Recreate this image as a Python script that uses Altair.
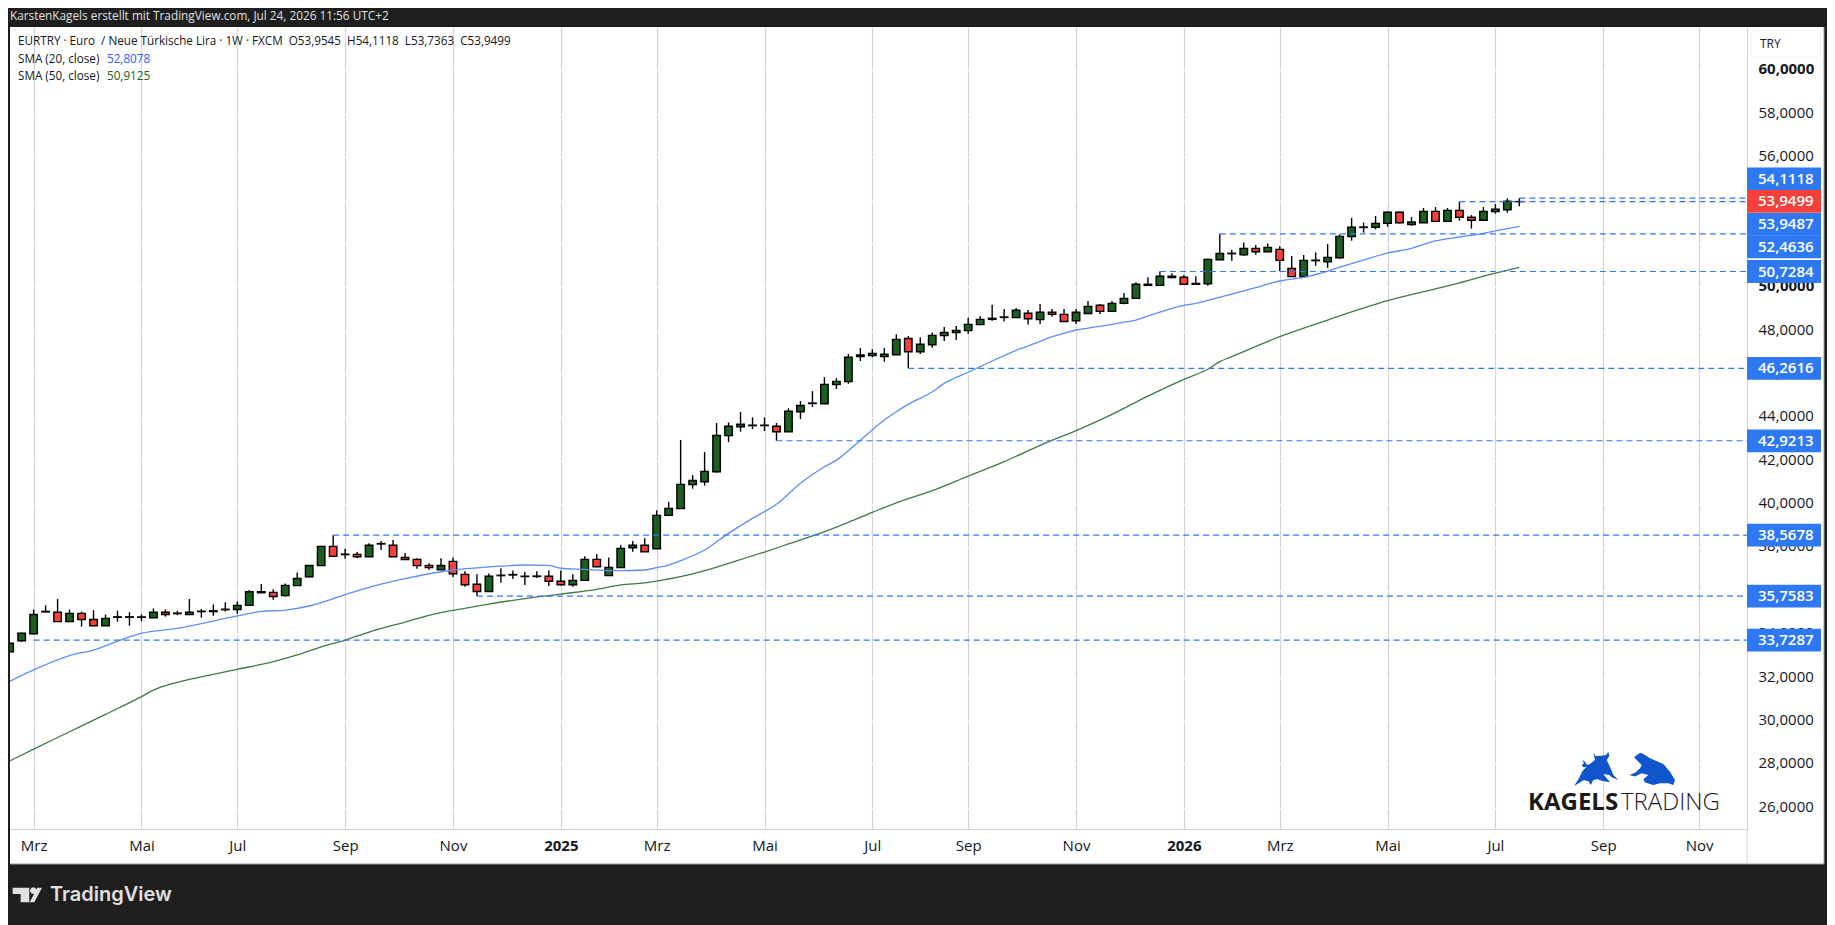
import math
import altair as alt
import pandas as pd

# ---- weekly candles (2024-02-19 ... 2026-07-20)
first_week = "2024-02-19"
opens = [33.19,33.70,34.02,35.03,35.01,34.58,34.96,34.68,34.39,34.78,34.80,34.78,34.76,35.01,34.95,34.90,35.04,35.04,35.13,35.14,
         35.33,35.91,35.93,35.78,36.24,36.65,37.16,38.05,37.67,37.68,37.57,38.16,38.10,37.54,37.45,37.17,36.97,37.36,36.76,36.30,
         35.97,36.70,36.73,36.66,36.66,36.67,36.44,36.28,36.48,37.45,36.70,37.07,37.99,38.10,37.94,39.48,39.79,40.90,41.03,41.49,
         43.16,43.57,43.62,43.62,43.59,43.34,44.26,44.64,44.63,45.51,45.65,46.81,46.85,46.80,46.89,47.64,47.03,47.35,47.77,47.91,
         48.00,48.28,48.52,48.61,48.60,48.80,48.51,48.85,48.75,48.46,48.79,49.17,48.89,49.26,49.49,50.09,50.09,50.51,50.46,50.14,
         50.16,51.27,51.55,51.50,51.79,51.64,51.75,50.87,50.49,51.23,51.18,51.36,52.34,52.76,52.77,52.95,53.46,52.89,52.98,53.50,
         53.04,53.55,53.23,53.09,53.49,53.58,53.9545]
closes = [33.58,34.04,34.91,35.05,34.58,34.96,34.68,34.39,34.73,34.80,34.78,34.80,35.01,34.91,34.97,35.01,35.06,35.08,35.15,35.33,
          35.96,35.96,35.74,36.25,36.57,37.17,38.05,37.59,37.69,37.57,38.10,38.18,37.57,37.44,37.16,37.07,37.17,36.79,36.28,35.97,
          36.67,36.72,36.75,36.68,36.68,36.44,36.28,36.48,37.45,37.11,37.08,37.96,38.10,37.80,39.48,39.80,40.91,41.09,41.51,43.17,
          43.59,43.68,43.64,43.64,43.34,44.28,44.55,44.66,45.52,45.66,46.77,46.88,46.95,46.91,47.60,47.03,47.37,47.78,47.92,48.01,
          48.29,48.52,48.57,48.63,48.94,48.55,48.85,48.75,48.42,48.85,49.12,48.89,49.26,49.49,50.14,50.14,50.51,50.45,50.14,50.18,
          51.29,51.56,51.57,51.79,51.64,51.84,51.24,50.49,51.24,51.25,51.38,52.35,52.77,52.78,52.95,53.46,52.98,53.01,53.50,53.04,
          53.55,53.23,53.09,53.50,53.60,53.97,53.9499]
highs = [33.62,34.08,35.14,35.33,35.62,35.14,35.04,35.11,34.91,35.08,35.01,34.91,35.19,35.14,35.08,35.62,35.16,35.37,35.47,35.51,
         36.04,36.31,36.07,36.34,36.85,37.17,38.08,38.5678,37.94,37.79,38.19,38.30,38.34,37.74,37.50,37.27,37.50,37.54,36.90,36.76,
         36.80,37.04,36.94,36.87,36.90,36.94,36.94,36.76,37.60,37.70,37.54,38.11,38.30,38.43,39.71,40.10,42.96,41.34,42.40,43.74,
         43.77,44.25,44.00,44.00,43.74,44.42,44.75,45.21,45.86,45.81,46.92,47.20,47.14,47.20,47.83,47.75,47.69,47.92,48.17,48.21,
         48.59,48.68,49.19,49.00,49.05,48.95,49.23,49.00,49.00,49.00,49.37,49.23,49.37,49.74,50.23,50.46,50.7284,50.65,50.57,50.51,
         51.33,52.4636,51.72,52.07,51.95,52.02,51.89,51.44,51.49,51.61,51.99,52.44,53.20,52.98,53.29,53.50,53.50,53.24,53.66,53.70,
         53.66,53.9487,53.33,53.70,53.84,54.10,54.1118]
lows = [33.15,33.65,33.98,34.99,34.58,34.58,34.35,34.39,34.39,34.58,34.39,34.59,34.76,34.81,34.87,34.90,34.76,34.85,35.04,34.94,
        35.33,35.91,35.59,35.74,36.24,36.62,37.16,37.59,37.48,37.50,37.57,37.88,37.57,37.44,37.02,36.97,36.97,36.64,36.19,35.7583,
        35.97,36.37,36.54,36.27,36.59,36.22,36.25,36.19,36.48,37.11,36.70,37.07,37.80,37.80,37.94,39.48,39.79,40.71,40.85,41.45,
        42.86,43.34,43.46,43.37,42.9213,43.34,43.92,44.48,44.63,45.31,45.55,46.60,46.78,46.57,46.89,46.2616,46.92,47.21,47.52,47.57,
        47.86,48.28,48.46,48.42,48.60,48.28,48.31,48.65,48.42,48.31,48.79,48.77,48.89,49.22,49.49,50.09,50.09,50.40,50.14,50.14,
        50.07,51.27,51.22,51.45,51.50,51.64,50.75,50.49,50.49,50.99,50.90,51.32,52.15,52.52,52.67,52.80,52.94,52.84,52.98,53.04,
        53.04,53.07,52.71,53.09,53.40,53.44,53.7363]

# ---- moving averages, read at the listed candle numbers (0 = first week shown)
sma20_idx = [0,2,5,7,10,11,14,19,21,23,25,28,30,33,37,40,43,45,46,48,50,51,53,54,55,56,58,60,62,64,66,68,69,71,73,74,75,77,78,
             80,81,82,83,84,85,86,87,88,89,90,91,92,93,94,95,96,97,98,99,100,102,104,105,106,108,110,111,113,115,117,119,121,123,124,126]
sma20_val = [31.82,32.35,33.01,33.27,33.88,34.04,34.27,34.84,35.05,35.11,35.30,35.82,36.16,36.56,36.96,37.10,37.19,37.17,37.04,36.99,36.93,36.93,36.96,37.07,37.19,37.39,37.88,38.65,39.34,39.99,40.96,41.72,42.03,42.95,43.88,44.26,44.60,45.18,45.57,
             46.08,46.34,46.60,46.85,47.09,47.29,47.51,47.72,47.88,48.03,48.12,48.20,48.29,48.39,48.49,48.68,48.85,49.03,49.17,49.26,49.40,49.69,49.98,50.15,50.29,50.46,50.75,50.93,51.26,51.58,51.80,52.14,52.32,52.49,52.60,52.81]
sma50_idx = [0,2,5,8,11,12,14,17,19,22,24,26,28,30,33,35,37,40,43,46,49,51,53,54,56,58,60,63,65,67,70,72,74,77,80,83,86,89,92,95,98,100,101,102,106,110,115,120,124,126]
sma50_val = [28.15,28.70,29.50,30.30,31.12,31.42,31.78,32.15,32.38,32.73,33.04,33.42,33.73,34.10,34.56,34.87,35.10,35.39,35.64,35.85,36.07,36.27,36.37,36.45,36.65,36.93,37.27,37.79,38.16,38.53,39.16,39.62,40.06,40.62,41.29,41.96,42.71,43.39,44.14,44.98,45.75,46.22,46.57,46.80,47.72,48.49,49.38,50.06,50.65,50.92]

# ---- horizontal levels: price and the candle number they start from
level_prices = [33.7287,35.7583,38.5678,42.9213,46.2616,50.7284,52.4636,53.9487,54.1118]
level_start = [2,39,27,64,75,96,101,121,126]

# ---- price tags on the scale
tag_texts = ["54,1118","53,9499","53,9487","52,4636","50,7284","46,2616","42,9213","38,5678","35,7583","33,7287"]
tag_levels = [54.995,53.96,52.90,51.86,50.7284,46.2616,42.9213,38.5678,35.7583,33.7287]
tag_colors = ["#2f78f3","#f7403a","#2f78f3","#2f78f3","#2f78f3","#2f78f3","#2f78f3","#2f78f3","#2f78f3","#2f78f3"]

# ---- axis ticks
price_ticks = list(range(26, 62, 2))
month_ticks = ["2024-03-04","2024-05-06","2024-07-01","2024-09-02","2024-11-04","2025-01-06","2025-03-03","2025-05-05",
               "2025-07-07","2025-09-01","2025-11-03","2026-01-05","2026-03-02","2026-05-04","2026-07-06","2026-09-07","2026-11-02"]
month_names = ["Jan","Feb","Mrz","Apr","Mai","Jun","Jul","Aug","Sep","Okt","Nov","Dez"]

FONT = "Open Sans"
GRID = "#d1d4dc"
DARK = "#1e1e1e"
INK = "#131722"
PLOT_W, PLOT_H = 1737, 802
PAGE_X, PAGE_Y = 10, 27      # where the plot area sits in the window


def ms(d):
    return int(pd.Timestamp(d).timestamp() * 1000)


weeks = pd.date_range(first_week, periods=len(opens), freq="7D")
week_str = [d.strftime("%Y-%m-%d") for d in weeks]
domain_end = "2026-11-30"

candles = pd.DataFrame({"date": week_str, "open": opens, "high": highs, "low": lows, "close": closes})
candles["top"] = candles[["open", "close"]].max(axis=1)
candles["bottom"] = candles[["open", "close"]].min(axis=1)
candles["fill"] = ["#1b5e20" if c >= o else "#f7403a" for o, c in zip(opens, closes)]

sma20 = pd.DataFrame({"date": [week_str[i] for i in sma20_idx], "v": sma20_val})
sma50 = pd.DataFrame({"date": [week_str[i] for i in sma50_idx], "v": sma50_val})
levels = pd.DataFrame({"start": [week_str[i] for i in level_start], "end": domain_end, "p": level_prices})
tags = pd.DataFrame({"text": tag_texts, "lvl": tag_levels, "color": tag_colors})
tags["t"] = tags["lvl"] + 0.525
tags["b"] = tags["lvl"] - 0.525

xs = alt.Scale(type="utc", domain=[ms("2024-02-19 04:48"), ms(domain_end)], nice=False, padding=0)
ys = alt.Scale(domain=[25.014, 62.006], nice=False, zero=False)
one = alt.Data(values=[{"a": 1}])

x_axis = alt.Axis(
    title=None, values=[ms(d) for d in month_ticks], grid=True, gridColor=GRID, gridWidth=1.2,
    domainColor=GRID, domainWidth=1, ticks=False, labelFont=FONT, labelFontSize=15, labelColor=INK,
    labelPadding=16, labelOverlap=False, labelFlush=False, labelBound=False, labelBaseline="middle",
    labelExpr="utcmonth(datum.value)==0 ? utcyear(datum.value) : " + str(month_names) + "[utcmonth(datum.value)]",
    labelFontWeight={"condition": {"test": "utcmonth(datum.value)==0", "value": "bold"}, "value": "normal"},
)
y_axis = alt.Axis(
    title=None, orient="right", values=price_ticks, grid=True, gridColor="#ffffff", gridWidth=1.2,
    domainColor=GRID, domainWidth=1, ticks=False, labelFont=FONT, labelFontSize=15, labelColor=INK,
    labelPadding=11, labelAlign="left", labelOverlap=False, labelFlush=False, labelBound=False, labelOffset=-1.5,
    labelExpr="replace(format(datum.value,'.4f'),'.',',')",
    labelFontWeight={"condition": {"test": "datum.value==60||datum.value==50", "value": "bold"}, "value": "normal"},
)


def X(field):
    return alt.X(field, scale=xs, axis=x_axis)


def Y(field):
    return alt.Y(field, scale=ys, axis=y_axis)


def px(v):
    return alt.value(v - PAGE_X)


def py(v):
    return alt.value(v - PAGE_Y)


def rect(x0, y0, x1, y1, **kw):
    return alt.Chart(one).mark_rect(**kw).encode(x=px(x0), x2=px(x1), y=py(y0), y2=py(y1))


def hline(x0, x1, yp, color):
    return alt.Chart(one).mark_rule(color=color, strokeWidth=1).encode(x=px(x0), x2=px(x1), y=py(yp))


def vline(xp, y0, y1, color):
    return alt.Chart(one).mark_rule(color=color, strokeWidth=1).encode(x=px(xp), y=py(y0), y2=py(y1))


def label(text, xp, yp, **kw):
    kw.setdefault("font", FONT)
    kw.setdefault("align", "left")
    kw.setdefault("baseline", "middle")
    return alt.Chart(one).mark_text(text=text, **kw).encode(x=px(xp), y=py(yp))


def to_path(polys, cx, cy, half):
    parts = []
    for poly in polys:
        pts = [f"{(x - cx) / half:.3f},{(y - cy) / half:.3f}" for x, y in poly]
        parts.append("M" + "L".join(pts) + "Z")
    return "".join(parts)


def glyph(polys, cx, cy, half, xp, yp, half_px, color):
    return alt.Chart(one).mark_point(shape=to_path(polys, cx, cy, half), filled=True, color=color, opacity=1,
                                     size=(2 * half_px) ** 2, strokeWidth=0).encode(x=px(xp), y=py(yp))


bull = [[(100,8),(107,18),(125,17),(138,15),(145,5),(148,18),(140,30),(150,50),(160,75),(175,90),(155,82),(148,75),(130,72),
         (140,85),(150,97),(125,92),(112,88),(100,90),(92,105),(86,95),(72,90),(42,108),(55,88),(68,62),(80,50),(70,52),(65,45),
         (72,40),(66,30),(75,35),(78,42),(85,45),(105,30)]]
bear = [[(222,22),(240,8),(250,12),(270,25),(310,42),(330,65),(345,90),(340,105),(325,100),(300,100),(280,105),(255,98),
         (250,88),(265,75),(245,70),(225,80),(208,75),(225,68),(240,55),(245,45),(235,35)]]
tv_logo = [[(38,203),(88,203),(88,247),(62,247),(62,222),(38,222)],
           [(100 + 10 * math.cos(a * math.pi / 6), 212 + 10 * math.sin(a * math.pi / 6)) for a in range(12)],
           [(112,203),(126,203),(103,247),(89,247)]]

frame = [
    rect(0, 0, 1835, 27, color=DARK),
    rect(0, 27, 10, 864, color=DARK),
    rect(1824, 27, 1835, 864, color=DARK),
    rect(0, 864, 1835, 925, color=DARK),
    hline(10, 1824, 864, "#9a9a9a"),
    vline(1824, 27, 864, "#9a9a9a"),
    vline(1747, 829, 864, GRID),
    rect(1751, 31, 1820, 57, fillOpacity=0, stroke="#f0f3fa", strokeWidth=1, cornerRadius=3),
]

watermark = [
    glyph(bull, 107, 55, 70, 1595.7, 768.3, 23.3, "#1155cc"),
    glyph(bear, 276, 55, 70, 1652, 768.3, 23.3, "#1155cc"),
    label("KAGELS", 1528, 803, fontSize=24, fontWeight="bold", color="#1a1a1a"),
    label("TRADING", 1621, 803, fontSize=24, fontWeight=300, color="#1a1a1a"),
]

line20 = alt.Chart(sma20).mark_line(color="#5b8ff5", strokeWidth=1.3, clip=True, interpolate="monotone").encode(
    x=X("date:T"), y=Y("v:Q"))
line50 = alt.Chart(sma50).mark_line(color="#3f7a45", strokeWidth=1.3, clip=True, interpolate="monotone").encode(
    x=X("date:T"), y=Y("v:Q"))
dashes = alt.Chart(levels).mark_rule(color="#2f78f3", strokeWidth=1.2, strokeDash=[6, 4]).encode(
    x=X("start:T"), x2="end:T", y=Y("p:Q"))

wicks = alt.Chart(candles).mark_rule(color="#000000", strokeWidth=1.4, clip=True).encode(
    x=X("date:T"), y=Y("low:Q"), y2="high:Q")
bodies = alt.Chart(candles).mark_bar(size=7.5, stroke="#000000", strokeWidth=1.4, clip=True).encode(
    x=X("date:T"), y=Y("top:Q"), y2="bottom:Q", fill=alt.Fill("fill:N", scale=None))

tag_boxes = alt.Chart(tags).mark_rect().encode(
    x=px(1747), x2=px(1821), y=Y("t:Q"), y2="b:Q", fill=alt.Fill("color:N", scale=None))
tag_text = alt.Chart(tags).mark_text(align="left", baseline="middle", font=FONT, fontSize=15, fontWeight=600,
                                     color="#ffffff").encode(x=px(1758), y=Y("lvl:Q"), text="text:N")

NB = "\u00a0"
legend_main = f"EURTRY · Euro{NB}{NB}/ Neue Türkische Lira · 1W · FXCM{NB}{NB}O53,9545{NB}{NB}H54,1118{NB}{NB}L53,7363{NB}{NB}C53,9499"
texts = [
    label("KarstenKagels erstellt mit TradingView.com, Jul 24, 2026 11:56 UTC+2", 10, 16, fontSize=11.8, color="#e0e0e0"),
    label(legend_main, 18, 41, fontSize=11.7, color=INK),
    label("SMA (20, close)", 18, 59, fontSize=11.7, color=INK),
    label("52,8078", 107, 59, fontSize=11.7, color="#2962ff"),
    label("SMA (50, close)", 18, 76, fontSize=11.7, color=INK),
    label("50,9125", 107, 76, fontSize=11.7, color="#1b5e20"),
    label("TRY", 1760, 44, fontSize=12, color=INK),
    label("TradingView", 50, 895, font="Inter", fontSize=20, fontWeight=600, color="#e0e0e0"),
    glyph(tv_logo, 82, 225, 45, 27.3, 895, 15, "#e0e0e0"),
]

chart = alt.layer(
    wicks, bodies, line20, line50, dashes, tag_boxes, tag_text, *frame, *watermark, *texts
).properties(
    width=PLOT_W, height=PLOT_H, background="#ffffff",
    padding={"left": 2, "top": 19, "right": 80, "bottom": 96},
    autosize=alt.AutoSizeParams(type="none"),
).configure_view(stroke=None, fill="#ffffff")

chart.save("out.html", embed_options={"renderer": "svg", "actions": False})
